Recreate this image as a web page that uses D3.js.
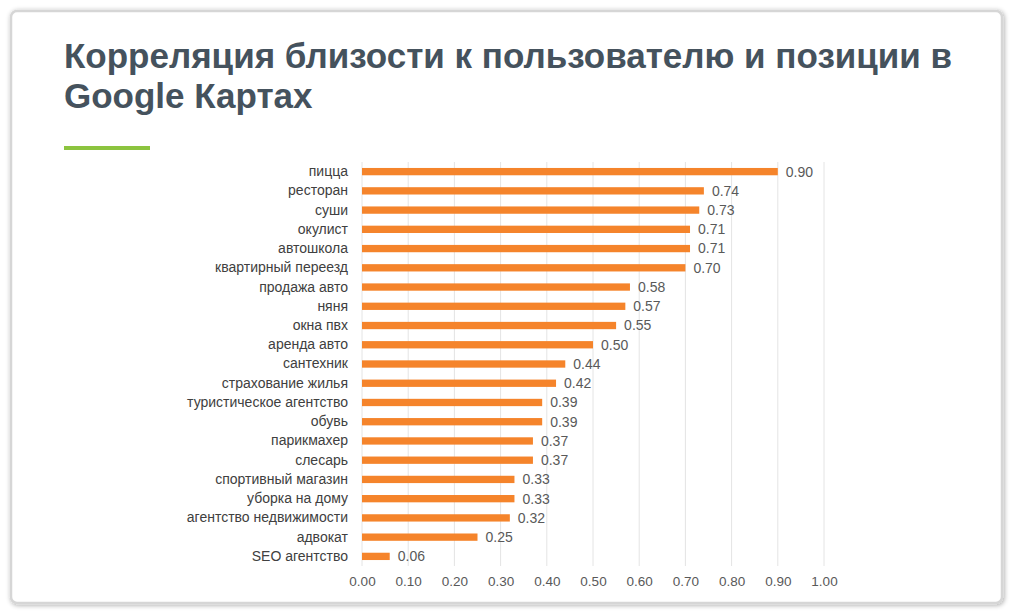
<!DOCTYPE html>
<html>
<head>
<meta charset="utf-8">
<script src="https://cdn.jsdelivr.net/npm/d3@7"></script>
<style>
  body { margin:0; background:#fff; }
  svg { display:block; }
</style>
</head>
<body>
<div id="vis"></div>
<script>
var categories = ["пицца","ресторан","суши","окулист","автошкола","квартирный переезд","продажа авто","няня","окна пвх","аренда авто","сантехник","страхование жилья","туристическое агентство","обувь","парикмахер","слесарь","спортивный магазин","уборка на дому","агентство недвижимости","адвокат","SEO агентство"]
var values = [0.90,0.74,0.73,0.71,0.71,0.70,0.58,0.57,0.55,0.50,0.44,0.42,0.39,0.39,0.37,0.37,0.33,0.33,0.32,0.25,0.06]
var tickValues = [0,0.1,0.2,0.3,0.4,0.5,0.6,0.7,0.8,0.9,1.0]
var titleLines = ["Корреляция близости к пользователю и позиции в","Google Картах"]

var width = 1013, height = 616
var font = "'Liberation Sans', Arial, sans-serif"
var svg = d3.select("#vis").append("svg").attr("width",width).attr("height",height)

// slide frame with soft shadow
var defs = svg.append("defs")
var f = defs.append("filter").attr("id","shadow").attr("x","-5%").attr("y","-5%").attr("width","110%").attr("height","110%")
f.append("feGaussianBlur").attr("in","SourceAlpha").attr("stdDeviation",2.5)
f.append("feOffset").attr("dx",1).attr("dy",1).attr("result","b")
f.append("feComponentTransfer").append("feFuncA").attr("type","linear").attr("slope",0.35)
var m = f.append("feMerge")
m.append("feMergeNode")
m.append("feMergeNode").attr("in","SourceGraphic")
svg.append("rect").attr("x",11).attr("y",11).attr("width",991).attr("height",592)
    .attr("rx",6).attr("fill","#fff").attr("stroke","#d6d6d6").attr("stroke-width",2.5)
    .attr("filter","url(#shadow)")

//title
svg.selectAll(".title").data(titleLines).enter().append("text")
    .attr("class","title")
    .attr("x",64).attr("y",function(d,i){ return 68+i*40 })
    .attr("font-family",font)
    .attr("font-weight","bold").attr("font-size",35)
    .attr("fill","#45525d")
    .text(function(d){ return d })
svg.append("rect").attr("x",64).attr("y",146).attr("width",86).attr("height",4).attr("fill","#8cc43f")

//chart
var x = d3.scaleLinear().domain([0,1]).range([362,824])
var y = d3.scaleBand().domain(categories).range([162,566]).paddingInner(0.62).paddingOuter(0.31)

var g = svg.append("g").attr("font-family",font)

g.selectAll(".grid").data(tickValues).enter().append("line")
    .attr("x1",function(d){ return x(d) }).attr("x2",function(d){ return x(d) })
    .attr("y1",162).attr("y2",566)
    .attr("stroke","#e4e4e4").attr("stroke-width",1)

var xAxis = d3.axisBottom(x).tickValues(tickValues).tickFormat(d3.format(".2f")).tickSize(0).tickPadding(8)
var ax = g.append("g").attr("transform","translate(0,568)").call(xAxis)
ax.select(".domain").remove()
ax.selectAll("text").attr("font-size",13.5).attr("fill","#595959").attr("font-family",font)

var yAxis = d3.axisLeft(y).tickSize(0).tickPadding(14)
var ay = g.append("g").attr("transform","translate(362,0)").call(yAxis)
ay.select(".domain").remove()
ay.selectAll("text").attr("font-size",14).attr("fill","#404040").attr("font-family",font)

g.selectAll(".bar").data(values).enter().append("rect")
    .attr("class","bar")
    .attr("x",x(0))
    .attr("y",function(d,i){ return y(categories[i]) })
    .attr("width",function(d){ return x(d)-x(0) })
    .attr("height",y.bandwidth())
    .attr("fill","#f5842b")

g.selectAll(".val").data(values).enter().append("text")
    .attr("x",function(d){ return x(d)+8 })
    .attr("y",function(d,i){ return y(categories[i])+y.bandwidth()/2 })
    .attr("dy","0.35em")
    .attr("font-size",14).attr("fill","#595959")
    .text(function(d){ return d3.format(".2f")(d) })
</script>
</body>
</html>
